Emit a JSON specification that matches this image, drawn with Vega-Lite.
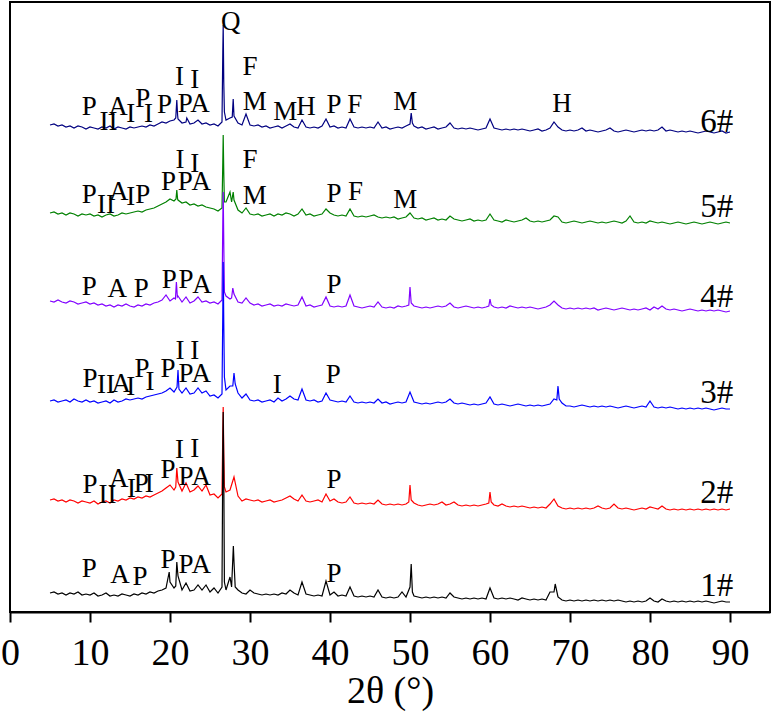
{
"$schema":"https://vega.github.io/schema/vega-lite/v6.json",
"width":760,"height":610,
"autosize":{"type":"none"},
"padding":{"left":10,"top":2,"right":4,"bottom":110},
"background":"white",
"config":{"view":{"stroke":"#000","strokeWidth":2}},
"layer":[
{"data":{"values":[
{"s":"6#","x":5,"y":487},{"s":"6#","x":5.5,"y":488},{"s":"6#","x":6,"y":486},{"s":"6#","x":6.5,"y":487},{"s":"6#","x":7,"y":485},{"s":"6#","x":7.5,"y":486},{"s":"6#","x":8,"y":484},{"s":"6#","x":8.5,"y":486},{"s":"6#","x":9,"y":485},{"s":"6#","x":9.5,"y":483},{"s":"6#","x":10,"y":485},{"s":"6#","x":10.5,"y":484},{"s":"6#","x":11,"y":483},{"s":"6#","x":11.5,"y":485},{"s":"6#","x":12,"y":484},{"s":"6#","x":12.5,"y":486},{"s":"6#","x":13,"y":483},{"s":"6#","x":13.5,"y":485},{"s":"6#","x":14,"y":484},{"s":"6#","x":14.5,"y":483},{"s":"6#","x":15,"y":485},{"s":"6#","x":15.5,"y":484},{"s":"6#","x":16,"y":485},{"s":"6#","x":16.5,"y":486},{"s":"6#","x":17,"y":485},{"s":"6#","x":17.5,"y":487},{"s":"6#","x":18,"y":486},{"s":"6#","x":18.5,"y":488},{"s":"6#","x":19,"y":490},{"s":"6#","x":19.5,"y":489},{"s":"6#","x":20,"y":491},{"s":"6#","x":20.5,"y":492},{"s":"6#","x":21,"y":493},{"s":"6#","x":21.5,"y":489},{"s":"6#","x":22,"y":490},{"s":"6#","x":22.5,"y":488},{"s":"6#","x":23,"y":489},{"s":"6#","x":23.5,"y":492},{"s":"6#","x":24,"y":488},{"s":"6#","x":24.5,"y":489},{"s":"6#","x":25,"y":487},{"s":"6#","x":25.5,"y":488},{"s":"6#","x":26,"y":486},{"s":"6#","x":26.5,"y":490},{"s":"6#","x":27,"y":492},{"s":"6#","x":27.5,"y":494},{"s":"6#","x":28,"y":496},{"s":"6#","x":28.5,"y":489},{"s":"6#","x":29,"y":487},{"s":"6#","x":29.5,"y":498},{"s":"6#","x":30,"y":487},{"s":"6#","x":30.5,"y":486},{"s":"6#","x":31,"y":487},{"s":"6#","x":31.5,"y":485},{"s":"6#","x":32,"y":486},{"s":"6#","x":32.5,"y":484},{"s":"6#","x":33,"y":485},{"s":"6#","x":33.5,"y":486},{"s":"6#","x":34,"y":484},{"s":"6#","x":34.5,"y":486},{"s":"6#","x":35,"y":488},{"s":"6#","x":35.5,"y":485},{"s":"6#","x":36,"y":484},{"s":"6#","x":36.5,"y":492},{"s":"6#","x":37,"y":485},{"s":"6#","x":37.5,"y":484},{"s":"6#","x":38,"y":485},{"s":"6#","x":38.5,"y":484},{"s":"6#","x":39,"y":486},{"s":"6#","x":39.5,"y":493},{"s":"6#","x":40,"y":485},{"s":"6#","x":40.5,"y":486},{"s":"6#","x":41,"y":484},{"s":"6#","x":41.5,"y":485},{"s":"6#","x":42,"y":484},{"s":"6#","x":42.5,"y":493},{"s":"6#","x":43,"y":485},{"s":"6#","x":43.5,"y":484},{"s":"6#","x":44,"y":485},{"s":"6#","x":44.5,"y":484},{"s":"6#","x":45,"y":485},{"s":"6#","x":45.5,"y":484},{"s":"6#","x":46,"y":490},{"s":"6#","x":46.5,"y":484},{"s":"6#","x":47,"y":485},{"s":"6#","x":47.5,"y":483},{"s":"6#","x":48,"y":484},{"s":"6#","x":48.5,"y":485},{"s":"6#","x":49,"y":484},{"s":"6#","x":49.5,"y":486},{"s":"6#","x":50,"y":488},{"s":"6#","x":50.5,"y":486},{"s":"6#","x":51,"y":484},{"s":"6#","x":51.5,"y":485},{"s":"6#","x":52,"y":483},{"s":"6#","x":52.5,"y":484},{"s":"6#","x":53,"y":485},{"s":"6#","x":53.5,"y":483},{"s":"6#","x":54,"y":484},{"s":"6#","x":54.5,"y":485},{"s":"6#","x":55,"y":489},{"s":"6#","x":55.5,"y":484},{"s":"6#","x":56,"y":483},{"s":"6#","x":56.5,"y":484},{"s":"6#","x":57,"y":483},{"s":"6#","x":57.5,"y":484},{"s":"6#","x":58,"y":483},{"s":"6#","x":58.5,"y":482},{"s":"6#","x":59,"y":483},{"s":"6#","x":59.5,"y":484},{"s":"6#","x":60,"y":493},{"s":"6#","x":60.5,"y":484},{"s":"6#","x":61,"y":483},{"s":"6#","x":61.5,"y":482},{"s":"6#","x":62,"y":483},{"s":"6#","x":62.5,"y":482},{"s":"6#","x":63,"y":483},{"s":"6#","x":63.5,"y":482},{"s":"6#","x":64,"y":483},{"s":"6#","x":64.5,"y":482},{"s":"6#","x":65,"y":481},{"s":"6#","x":65.5,"y":482},{"s":"6#","x":66,"y":483},{"s":"6#","x":66.5,"y":481},{"s":"6#","x":67,"y":482},{"s":"6#","x":67.5,"y":484},{"s":"6#","x":68,"y":490},{"s":"6#","x":68.5,"y":485},{"s":"6#","x":69,"y":482},{"s":"6#","x":69.5,"y":481},{"s":"6#","x":70,"y":482},{"s":"6#","x":70.5,"y":481},{"s":"6#","x":71,"y":482},{"s":"6#","x":71.5,"y":484},{"s":"6#","x":72,"y":481},{"s":"6#","x":72.5,"y":482},{"s":"6#","x":73,"y":481},{"s":"6#","x":73.5,"y":480},{"s":"6#","x":74,"y":481},{"s":"6#","x":74.5,"y":482},{"s":"6#","x":75,"y":484},{"s":"6#","x":75.5,"y":481},{"s":"6#","x":76,"y":480},{"s":"6#","x":76.5,"y":481},{"s":"6#","x":77,"y":482},{"s":"6#","x":77.5,"y":481},{"s":"6#","x":78,"y":480},{"s":"6#","x":78.5,"y":481},{"s":"6#","x":79,"y":482},{"s":"6#","x":79.5,"y":481},{"s":"6#","x":80,"y":482},{"s":"6#","x":80.5,"y":481},{"s":"6#","x":81,"y":482},{"s":"6#","x":81.5,"y":485},{"s":"6#","x":82,"y":481},{"s":"6#","x":82.5,"y":482},{"s":"6#","x":83,"y":481},{"s":"6#","x":83.5,"y":480},{"s":"6#","x":84,"y":481},{"s":"6#","x":84.5,"y":480},{"s":"6#","x":85,"y":481},{"s":"6#","x":85.5,"y":480},{"s":"6#","x":86,"y":479},{"s":"6#","x":86.5,"y":480},{"s":"6#","x":87,"y":481},{"s":"6#","x":87.5,"y":480},{"s":"6#","x":88,"y":479},{"s":"6#","x":88.5,"y":480},{"s":"6#","x":89,"y":481},{"s":"6#","x":89.5,"y":479},{"s":"6#","x":90,"y":480},
{"s":"6#","x":20.72,"y":494},{"s":"6#","x":20.85,"y":512},{"s":"6#","x":20.95,"y":497},{"s":"6#","x":22.1,"y":494},{"s":"6#","x":26.6,"y":560},{"s":"6#","x":26.65,"y":587},{"s":"6#","x":26.72,"y":530},{"s":"6#","x":26.8,"y":500},{"s":"6#","x":27.78,"y":495},{"s":"6#","x":27.9,"y":513},{"s":"6#","x":50.15,"y":499},{"s":"6#","x":50.3,"y":489},

{"s":"5#","x":5,"y":399},{"s":"5#","x":5.5,"y":400},{"s":"5#","x":6,"y":398},{"s":"5#","x":6.5,"y":399},{"s":"5#","x":7,"y":397},{"s":"5#","x":7.5,"y":399},{"s":"5#","x":8,"y":398},{"s":"5#","x":8.5,"y":396},{"s":"5#","x":9,"y":398},{"s":"5#","x":9.5,"y":397},{"s":"5#","x":10,"y":398},{"s":"5#","x":10.5,"y":396},{"s":"5#","x":11,"y":397},{"s":"5#","x":11.5,"y":395},{"s":"5#","x":12,"y":397},{"s":"5#","x":12.5,"y":398},{"s":"5#","x":13,"y":396},{"s":"5#","x":13.5,"y":397},{"s":"5#","x":14,"y":399},{"s":"5#","x":14.5,"y":398},{"s":"5#","x":15,"y":399},{"s":"5#","x":15.5,"y":400},{"s":"5#","x":16,"y":401},{"s":"5#","x":16.5,"y":400},{"s":"5#","x":17,"y":402},{"s":"5#","x":17.5,"y":403},{"s":"5#","x":18,"y":404},{"s":"5#","x":18.5,"y":406},{"s":"5#","x":19,"y":408},{"s":"5#","x":19.5,"y":410},{"s":"5#","x":20,"y":413},{"s":"5#","x":20.5,"y":411},{"s":"5#","x":21,"y":412},{"s":"5#","x":21.5,"y":409},{"s":"5#","x":22,"y":410},{"s":"5#","x":22.5,"y":407},{"s":"5#","x":23,"y":408},{"s":"5#","x":23.5,"y":406},{"s":"5#","x":24,"y":407},{"s":"5#","x":24.5,"y":405},{"s":"5#","x":25,"y":404},{"s":"5#","x":25.5,"y":403},{"s":"5#","x":26,"y":401},{"s":"5#","x":26.5,"y":404},{"s":"5#","x":27,"y":410},{"s":"5#","x":27.5,"y":420},{"s":"5#","x":28,"y":412},{"s":"5#","x":28.5,"y":402},{"s":"5#","x":29,"y":399},{"s":"5#","x":29.5,"y":404},{"s":"5#","x":30,"y":398},{"s":"5#","x":30.5,"y":397},{"s":"5#","x":31,"y":398},{"s":"5#","x":31.5,"y":396},{"s":"5#","x":32,"y":397},{"s":"5#","x":32.5,"y":398},{"s":"5#","x":33,"y":396},{"s":"5#","x":33.5,"y":398},{"s":"5#","x":34,"y":397},{"s":"5#","x":34.5,"y":399},{"s":"5#","x":35,"y":398},{"s":"5#","x":35.5,"y":396},{"s":"5#","x":36,"y":398},{"s":"5#","x":36.5,"y":403},{"s":"5#","x":37,"y":397},{"s":"5#","x":37.5,"y":398},{"s":"5#","x":38,"y":396},{"s":"5#","x":38.5,"y":397},{"s":"5#","x":39,"y":398},{"s":"5#","x":39.5,"y":403},{"s":"5#","x":40,"y":399},{"s":"5#","x":40.5,"y":397},{"s":"5#","x":41,"y":396},{"s":"5#","x":41.5,"y":397},{"s":"5#","x":42,"y":396},{"s":"5#","x":42.5,"y":403},{"s":"5#","x":43,"y":396},{"s":"5#","x":43.5,"y":395},{"s":"5#","x":44,"y":396},{"s":"5#","x":44.5,"y":395},{"s":"5#","x":45,"y":396},{"s":"5#","x":45.5,"y":397},{"s":"5#","x":46,"y":395},{"s":"5#","x":46.5,"y":394},{"s":"5#","x":47,"y":395},{"s":"5#","x":47.5,"y":394},{"s":"5#","x":48,"y":395},{"s":"5#","x":48.5,"y":393},{"s":"5#","x":49,"y":394},{"s":"5#","x":49.5,"y":395},{"s":"5#","x":50,"y":399},{"s":"5#","x":50.5,"y":394},{"s":"5#","x":51,"y":393},{"s":"5#","x":51.5,"y":394},{"s":"5#","x":52,"y":392},{"s":"5#","x":52.5,"y":393},{"s":"5#","x":53,"y":394},{"s":"5#","x":53.5,"y":392},{"s":"5#","x":54,"y":393},{"s":"5#","x":54.5,"y":392},{"s":"5#","x":55,"y":396},{"s":"5#","x":55.5,"y":393},{"s":"5#","x":56,"y":392},{"s":"5#","x":56.5,"y":391},{"s":"5#","x":57,"y":392},{"s":"5#","x":57.5,"y":393},{"s":"5#","x":58,"y":391},{"s":"5#","x":58.5,"y":392},{"s":"5#","x":59,"y":391},{"s":"5#","x":59.5,"y":392},{"s":"5#","x":60,"y":398},{"s":"5#","x":60.5,"y":392},{"s":"5#","x":61,"y":391},{"s":"5#","x":61.5,"y":390},{"s":"5#","x":62,"y":392},{"s":"5#","x":62.5,"y":391},{"s":"5#","x":63,"y":390},{"s":"5#","x":63.5,"y":391},{"s":"5#","x":64,"y":392},{"s":"5#","x":64.5,"y":394},{"s":"5#","x":65,"y":391},{"s":"5#","x":65.5,"y":390},{"s":"5#","x":66,"y":391},{"s":"5#","x":66.5,"y":390},{"s":"5#","x":67,"y":391},{"s":"5#","x":67.5,"y":392},{"s":"5#","x":68,"y":396},{"s":"5#","x":68.5,"y":395},{"s":"5#","x":69,"y":390},{"s":"5#","x":69.5,"y":389},{"s":"5#","x":70,"y":390},{"s":"5#","x":70.5,"y":391},{"s":"5#","x":71,"y":390},{"s":"5#","x":71.5,"y":389},{"s":"5#","x":72,"y":390},{"s":"5#","x":72.5,"y":391},{"s":"5#","x":73,"y":390},{"s":"5#","x":73.5,"y":389},{"s":"5#","x":74,"y":390},{"s":"5#","x":74.5,"y":389},{"s":"5#","x":75,"y":390},{"s":"5#","x":75.5,"y":391},{"s":"5#","x":76,"y":390},{"s":"5#","x":76.5,"y":389},{"s":"5#","x":77,"y":391},{"s":"5#","x":77.5,"y":396},{"s":"5#","x":78,"y":390},{"s":"5#","x":78.5,"y":389},{"s":"5#","x":79,"y":390},{"s":"5#","x":79.5,"y":389},{"s":"5#","x":80,"y":391},{"s":"5#","x":80.5,"y":390},{"s":"5#","x":81,"y":389},{"s":"5#","x":81.5,"y":390},{"s":"5#","x":82,"y":389},{"s":"5#","x":82.5,"y":388},{"s":"5#","x":83,"y":389},{"s":"5#","x":83.5,"y":390},{"s":"5#","x":84,"y":389},{"s":"5#","x":84.5,"y":388},{"s":"5#","x":85,"y":389},{"s":"5#","x":85.5,"y":390},{"s":"5#","x":86,"y":389},{"s":"5#","x":86.5,"y":388},{"s":"5#","x":87,"y":389},{"s":"5#","x":87.5,"y":390},{"s":"5#","x":88,"y":389},{"s":"5#","x":88.5,"y":388},{"s":"5#","x":89,"y":389},{"s":"5#","x":89.5,"y":390},{"s":"5#","x":90,"y":389},
{"s":"5#","x":20.75,"y":413},{"s":"5#","x":20.85,"y":422},{"s":"5#","x":20.95,"y":413},{"s":"5#","x":26.6,"y":450},{"s":"5#","x":26.65,"y":477},{"s":"5#","x":26.72,"y":440},{"s":"5#","x":26.8,"y":410},{"s":"5#","x":27.7,"y":410},{"s":"5#","x":27.9,"y":420},

{"s":"4#","x":5,"y":311},{"s":"4#","x":5.5,"y":310},{"s":"4#","x":6,"y":312},{"s":"4#","x":6.5,"y":310},{"s":"4#","x":7,"y":309},{"s":"4#","x":7.5,"y":311},{"s":"4#","x":8,"y":310},{"s":"4#","x":8.5,"y":308},{"s":"4#","x":9,"y":309},{"s":"4#","x":9.5,"y":310},{"s":"4#","x":10,"y":308},{"s":"4#","x":10.5,"y":309},{"s":"4#","x":11,"y":307},{"s":"4#","x":11.5,"y":308},{"s":"4#","x":12,"y":306},{"s":"4#","x":12.5,"y":307},{"s":"4#","x":13,"y":305},{"s":"4#","x":13.5,"y":307},{"s":"4#","x":14,"y":306},{"s":"4#","x":14.5,"y":308},{"s":"4#","x":15,"y":306},{"s":"4#","x":15.5,"y":305},{"s":"4#","x":16,"y":307},{"s":"4#","x":16.5,"y":306},{"s":"4#","x":17,"y":308},{"s":"4#","x":17.5,"y":307},{"s":"4#","x":18,"y":309},{"s":"4#","x":18.5,"y":310},{"s":"4#","x":19,"y":312},{"s":"4#","x":19.5,"y":317},{"s":"4#","x":20,"y":311},{"s":"4#","x":20.5,"y":314},{"s":"4#","x":21,"y":316},{"s":"4#","x":21.5,"y":310},{"s":"4#","x":22,"y":315},{"s":"4#","x":22.5,"y":309},{"s":"4#","x":23,"y":311},{"s":"4#","x":23.5,"y":315},{"s":"4#","x":24,"y":310},{"s":"4#","x":24.5,"y":311},{"s":"4#","x":25,"y":309},{"s":"4#","x":25.5,"y":310},{"s":"4#","x":26,"y":308},{"s":"4#","x":26.5,"y":312},{"s":"4#","x":27,"y":316},{"s":"4#","x":27.5,"y":313},{"s":"4#","x":28,"y":318},{"s":"4#","x":28.5,"y":310},{"s":"4#","x":29,"y":309},{"s":"4#","x":29.5,"y":314},{"s":"4#","x":30,"y":309},{"s":"4#","x":30.5,"y":307},{"s":"4#","x":31,"y":308},{"s":"4#","x":31.5,"y":306},{"s":"4#","x":32,"y":307},{"s":"4#","x":32.5,"y":308},{"s":"4#","x":33,"y":306},{"s":"4#","x":33.5,"y":307},{"s":"4#","x":34,"y":306},{"s":"4#","x":34.5,"y":308},{"s":"4#","x":35,"y":307},{"s":"4#","x":35.5,"y":306},{"s":"4#","x":36,"y":307},{"s":"4#","x":36.5,"y":315},{"s":"4#","x":37,"y":306},{"s":"4#","x":37.5,"y":307},{"s":"4#","x":38,"y":305},{"s":"4#","x":38.5,"y":306},{"s":"4#","x":39,"y":307},{"s":"4#","x":39.5,"y":315},{"s":"4#","x":40,"y":306},{"s":"4#","x":40.5,"y":305},{"s":"4#","x":41,"y":306},{"s":"4#","x":41.5,"y":305},{"s":"4#","x":42,"y":306},{"s":"4#","x":42.5,"y":317},{"s":"4#","x":43,"y":306},{"s":"4#","x":43.5,"y":305},{"s":"4#","x":44,"y":304},{"s":"4#","x":44.5,"y":305},{"s":"4#","x":45,"y":306},{"s":"4#","x":45.5,"y":305},{"s":"4#","x":46,"y":310},{"s":"4#","x":46.5,"y":305},{"s":"4#","x":47,"y":304},{"s":"4#","x":47.5,"y":305},{"s":"4#","x":48,"y":304},{"s":"4#","x":48.5,"y":306},{"s":"4#","x":49,"y":305},{"s":"4#","x":49.5,"y":306},{"s":"4#","x":50,"y":325},{"s":"4#","x":50.5,"y":306},{"s":"4#","x":51,"y":305},{"s":"4#","x":51.5,"y":304},{"s":"4#","x":52,"y":305},{"s":"4#","x":52.5,"y":304},{"s":"4#","x":53,"y":305},{"s":"4#","x":53.5,"y":306},{"s":"4#","x":54,"y":305},{"s":"4#","x":54.5,"y":306},{"s":"4#","x":55,"y":309},{"s":"4#","x":55.5,"y":305},{"s":"4#","x":56,"y":304},{"s":"4#","x":56.5,"y":305},{"s":"4#","x":57,"y":306},{"s":"4#","x":57.5,"y":305},{"s":"4#","x":58,"y":304},{"s":"4#","x":58.5,"y":305},{"s":"4#","x":59,"y":304},{"s":"4#","x":59.5,"y":305},{"s":"4#","x":60,"y":313},{"s":"4#","x":60.5,"y":305},{"s":"4#","x":61,"y":304},{"s":"4#","x":61.5,"y":305},{"s":"4#","x":62,"y":304},{"s":"4#","x":62.5,"y":306},{"s":"4#","x":63,"y":305},{"s":"4#","x":63.5,"y":304},{"s":"4#","x":64,"y":305},{"s":"4#","x":64.5,"y":304},{"s":"4#","x":65,"y":305},{"s":"4#","x":65.5,"y":304},{"s":"4#","x":66,"y":303},{"s":"4#","x":66.5,"y":304},{"s":"4#","x":67,"y":305},{"s":"4#","x":67.5,"y":307},{"s":"4#","x":68,"y":311},{"s":"4#","x":68.5,"y":307},{"s":"4#","x":69,"y":304},{"s":"4#","x":69.5,"y":303},{"s":"4#","x":70,"y":304},{"s":"4#","x":70.5,"y":303},{"s":"4#","x":71,"y":304},{"s":"4#","x":71.5,"y":303},{"s":"4#","x":72,"y":304},{"s":"4#","x":72.5,"y":303},{"s":"4#","x":73,"y":304},{"s":"4#","x":73.5,"y":302},{"s":"4#","x":74,"y":303},{"s":"4#","x":74.5,"y":304},{"s":"4#","x":75,"y":303},{"s":"4#","x":75.5,"y":302},{"s":"4#","x":76,"y":303},{"s":"4#","x":76.5,"y":304},{"s":"4#","x":77,"y":303},{"s":"4#","x":77.5,"y":302},{"s":"4#","x":78,"y":303},{"s":"4#","x":78.5,"y":302},{"s":"4#","x":79,"y":303},{"s":"4#","x":79.5,"y":304},{"s":"4#","x":80,"y":302},{"s":"4#","x":80.5,"y":305},{"s":"4#","x":81,"y":303},{"s":"4#","x":81.5,"y":306},{"s":"4#","x":82,"y":303},{"s":"4#","x":82.5,"y":302},{"s":"4#","x":83,"y":303},{"s":"4#","x":83.5,"y":302},{"s":"4#","x":84,"y":301},{"s":"4#","x":84.5,"y":302},{"s":"4#","x":85,"y":303},{"s":"4#","x":85.5,"y":302},{"s":"4#","x":86,"y":301},{"s":"4#","x":86.5,"y":302},{"s":"4#","x":87,"y":301},{"s":"4#","x":87.5,"y":302},{"s":"4#","x":88,"y":301},{"s":"4#","x":88.5,"y":302},{"s":"4#","x":89,"y":301},{"s":"4#","x":89.5,"y":300},{"s":"4#","x":90,"y":301},
{"s":"4#","x":20.68,"y":313},{"s":"4#","x":20.8,"y":330},{"s":"4#","x":20.92,"y":315},{"s":"4#","x":26.6,"y":390},{"s":"4#","x":26.65,"y":420},{"s":"4#","x":26.72,"y":370},{"s":"4#","x":26.8,"y":320},{"s":"4#","x":27.7,"y":314},{"s":"4#","x":27.85,"y":324},{"s":"4#","x":49.85,"y":307},{"s":"4#","x":50.15,"y":309},{"s":"4#","x":59.85,"y":306},{"s":"4#","x":60.15,"y":307},

{"s":"3#","x":5,"y":211},{"s":"3#","x":5.5,"y":212},{"s":"3#","x":6,"y":210},{"s":"3#","x":6.5,"y":211},{"s":"3#","x":7,"y":212},{"s":"3#","x":7.5,"y":210},{"s":"3#","x":8,"y":213},{"s":"3#","x":8.5,"y":211},{"s":"3#","x":9,"y":210},{"s":"3#","x":9.5,"y":212},{"s":"3#","x":10,"y":210},{"s":"3#","x":10.5,"y":211},{"s":"3#","x":11,"y":209},{"s":"3#","x":11.5,"y":210},{"s":"3#","x":12,"y":211},{"s":"3#","x":12.5,"y":209},{"s":"3#","x":13,"y":212},{"s":"3#","x":13.5,"y":210},{"s":"3#","x":14,"y":211},{"s":"3#","x":14.5,"y":213},{"s":"3#","x":15,"y":212},{"s":"3#","x":15.5,"y":213},{"s":"3#","x":16,"y":214},{"s":"3#","x":16.5,"y":213},{"s":"3#","x":17,"y":215},{"s":"3#","x":17.5,"y":216},{"s":"3#","x":18,"y":217},{"s":"3#","x":18.5,"y":218},{"s":"3#","x":19,"y":219},{"s":"3#","x":19.5,"y":221},{"s":"3#","x":20,"y":224},{"s":"3#","x":20.5,"y":220},{"s":"3#","x":21,"y":242},{"s":"3#","x":21.5,"y":219},{"s":"3#","x":22,"y":224},{"s":"3#","x":22.5,"y":218},{"s":"3#","x":23,"y":219},{"s":"3#","x":23.5,"y":224},{"s":"3#","x":24,"y":219},{"s":"3#","x":24.5,"y":221},{"s":"3#","x":25,"y":216},{"s":"3#","x":25.5,"y":217},{"s":"3#","x":26,"y":214},{"s":"3#","x":26.5,"y":218},{"s":"3#","x":27,"y":222},{"s":"3#","x":27.5,"y":226},{"s":"3#","x":28,"y":239},{"s":"3#","x":28.5,"y":219},{"s":"3#","x":29,"y":214},{"s":"3#","x":29.5,"y":218},{"s":"3#","x":30,"y":212},{"s":"3#","x":30.5,"y":211},{"s":"3#","x":31,"y":212},{"s":"3#","x":31.5,"y":210},{"s":"3#","x":32,"y":211},{"s":"3#","x":32.5,"y":212},{"s":"3#","x":33,"y":210},{"s":"3#","x":33.5,"y":214},{"s":"3#","x":34,"y":211},{"s":"3#","x":34.5,"y":213},{"s":"3#","x":35,"y":216},{"s":"3#","x":35.5,"y":213},{"s":"3#","x":36,"y":212},{"s":"3#","x":36.5,"y":223},{"s":"3#","x":37,"y":212},{"s":"3#","x":37.5,"y":211},{"s":"3#","x":38,"y":212},{"s":"3#","x":38.5,"y":210},{"s":"3#","x":39,"y":211},{"s":"3#","x":39.5,"y":219},{"s":"3#","x":40,"y":212},{"s":"3#","x":40.5,"y":211},{"s":"3#","x":41,"y":210},{"s":"3#","x":41.5,"y":211},{"s":"3#","x":42,"y":210},{"s":"3#","x":42.5,"y":216},{"s":"3#","x":43,"y":210},{"s":"3#","x":43.5,"y":209},{"s":"3#","x":44,"y":210},{"s":"3#","x":44.5,"y":209},{"s":"3#","x":45,"y":210},{"s":"3#","x":45.5,"y":209},{"s":"3#","x":46,"y":213},{"s":"3#","x":46.5,"y":209},{"s":"3#","x":47,"y":210},{"s":"3#","x":47.5,"y":208},{"s":"3#","x":48,"y":209},{"s":"3#","x":48.5,"y":210},{"s":"3#","x":49,"y":209},{"s":"3#","x":49.5,"y":210},{"s":"3#","x":50,"y":220},{"s":"3#","x":50.5,"y":210},{"s":"3#","x":51,"y":209},{"s":"3#","x":51.5,"y":208},{"s":"3#","x":52,"y":209},{"s":"3#","x":52.5,"y":208},{"s":"3#","x":53,"y":209},{"s":"3#","x":53.5,"y":210},{"s":"3#","x":54,"y":209},{"s":"3#","x":54.5,"y":210},{"s":"3#","x":55,"y":213},{"s":"3#","x":55.5,"y":209},{"s":"3#","x":56,"y":208},{"s":"3#","x":56.5,"y":209},{"s":"3#","x":57,"y":208},{"s":"3#","x":57.5,"y":207},{"s":"3#","x":58,"y":208},{"s":"3#","x":58.5,"y":207},{"s":"3#","x":59,"y":208},{"s":"3#","x":59.5,"y":209},{"s":"3#","x":60,"y":215},{"s":"3#","x":60.5,"y":208},{"s":"3#","x":61,"y":207},{"s":"3#","x":61.5,"y":208},{"s":"3#","x":62,"y":207},{"s":"3#","x":62.5,"y":206},{"s":"3#","x":63,"y":207},{"s":"3#","x":63.5,"y":208},{"s":"3#","x":64,"y":207},{"s":"3#","x":64.5,"y":206},{"s":"3#","x":65,"y":207},{"s":"3#","x":65.5,"y":206},{"s":"3#","x":66,"y":207},{"s":"3#","x":66.5,"y":206},{"s":"3#","x":67,"y":207},{"s":"3#","x":67.5,"y":208},{"s":"3#","x":68,"y":213},{"s":"3#","x":68.5,"y":226},{"s":"3#","x":69,"y":209},{"s":"3#","x":69.5,"y":206},{"s":"3#","x":70,"y":206},{"s":"3#","x":70.5,"y":205},{"s":"3#","x":71,"y":206},{"s":"3#","x":71.5,"y":207},{"s":"3#","x":72,"y":206},{"s":"3#","x":72.5,"y":205},{"s":"3#","x":73,"y":206},{"s":"3#","x":73.5,"y":205},{"s":"3#","x":74,"y":206},{"s":"3#","x":74.5,"y":205},{"s":"3#","x":75,"y":206},{"s":"3#","x":75.5,"y":205},{"s":"3#","x":76,"y":204},{"s":"3#","x":76.5,"y":205},{"s":"3#","x":77,"y":206},{"s":"3#","x":77.5,"y":205},{"s":"3#","x":78,"y":204},{"s":"3#","x":78.5,"y":205},{"s":"3#","x":79,"y":206},{"s":"3#","x":79.5,"y":205},{"s":"3#","x":80,"y":211},{"s":"3#","x":80.5,"y":205},{"s":"3#","x":81,"y":204},{"s":"3#","x":81.5,"y":205},{"s":"3#","x":82,"y":204},{"s":"3#","x":82.5,"y":205},{"s":"3#","x":83,"y":204},{"s":"3#","x":83.5,"y":203},{"s":"3#","x":84,"y":204},{"s":"3#","x":84.5,"y":203},{"s":"3#","x":85,"y":204},{"s":"3#","x":85.5,"y":203},{"s":"3#","x":86,"y":204},{"s":"3#","x":86.5,"y":203},{"s":"3#","x":87,"y":204},{"s":"3#","x":87.5,"y":203},{"s":"3#","x":88,"y":202},{"s":"3#","x":88.5,"y":203},{"s":"3#","x":89,"y":204},{"s":"3#","x":89.5,"y":203},{"s":"3#","x":90,"y":203},
{"s":"3#","x":20.88,"y":225},{"s":"3#","x":21.12,"y":223},{"s":"3#","x":26.6,"y":300},{"s":"3#","x":26.65,"y":350},{"s":"3#","x":26.72,"y":290},{"s":"3#","x":26.8,"y":235},{"s":"3#","x":27.85,"y":226},{"s":"3#","x":28.15,"y":228},{"s":"3#","x":68.35,"y":212},{"s":"3#","x":68.65,"y":213},

{"s":"2#","x":5,"y":112},{"s":"2#","x":5.5,"y":113},{"s":"2#","x":6,"y":111},{"s":"2#","x":6.5,"y":112},{"s":"2#","x":7,"y":110},{"s":"2#","x":7.5,"y":112},{"s":"2#","x":8,"y":111},{"s":"2#","x":8.5,"y":109},{"s":"2#","x":9,"y":111},{"s":"2#","x":9.5,"y":110},{"s":"2#","x":10,"y":109},{"s":"2#","x":10.5,"y":111},{"s":"2#","x":11,"y":108},{"s":"2#","x":11.5,"y":110},{"s":"2#","x":12,"y":111},{"s":"2#","x":12.5,"y":109},{"s":"2#","x":13,"y":112},{"s":"2#","x":13.5,"y":111},{"s":"2#","x":14,"y":113},{"s":"2#","x":14.5,"y":112},{"s":"2#","x":15,"y":114},{"s":"2#","x":15.5,"y":113},{"s":"2#","x":16,"y":115},{"s":"2#","x":16.5,"y":114},{"s":"2#","x":17,"y":116},{"s":"2#","x":17.5,"y":115},{"s":"2#","x":18,"y":117},{"s":"2#","x":18.5,"y":119},{"s":"2#","x":19,"y":121},{"s":"2#","x":19.5,"y":124},{"s":"2#","x":20,"y":127},{"s":"2#","x":20.5,"y":122},{"s":"2#","x":21,"y":130},{"s":"2#","x":21.5,"y":121},{"s":"2#","x":22,"y":129},{"s":"2#","x":22.5,"y":120},{"s":"2#","x":23,"y":122},{"s":"2#","x":23.5,"y":126},{"s":"2#","x":24,"y":121},{"s":"2#","x":24.5,"y":127},{"s":"2#","x":25,"y":117},{"s":"2#","x":25.5,"y":118},{"s":"2#","x":26,"y":114},{"s":"2#","x":26.5,"y":118},{"s":"2#","x":27,"y":120},{"s":"2#","x":27.5,"y":122},{"s":"2#","x":28,"y":135},{"s":"2#","x":28.5,"y":116},{"s":"2#","x":29,"y":111},{"s":"2#","x":29.5,"y":113},{"s":"2#","x":30,"y":112},{"s":"2#","x":30.5,"y":111},{"s":"2#","x":31,"y":112},{"s":"2#","x":31.5,"y":110},{"s":"2#","x":32,"y":111},{"s":"2#","x":32.5,"y":112},{"s":"2#","x":33,"y":110},{"s":"2#","x":33.5,"y":111},{"s":"2#","x":34,"y":112},{"s":"2#","x":34.5,"y":114},{"s":"2#","x":35,"y":116},{"s":"2#","x":35.5,"y":113},{"s":"2#","x":36,"y":111},{"s":"2#","x":36.5,"y":117},{"s":"2#","x":37,"y":111},{"s":"2#","x":37.5,"y":110},{"s":"2#","x":38,"y":111},{"s":"2#","x":38.5,"y":112},{"s":"2#","x":39,"y":110},{"s":"2#","x":39.5,"y":118},{"s":"2#","x":40,"y":111},{"s":"2#","x":40.5,"y":113},{"s":"2#","x":41,"y":110},{"s":"2#","x":41.5,"y":109},{"s":"2#","x":42,"y":110},{"s":"2#","x":42.5,"y":115},{"s":"2#","x":43,"y":109},{"s":"2#","x":43.5,"y":108},{"s":"2#","x":44,"y":109},{"s":"2#","x":44.5,"y":108},{"s":"2#","x":45,"y":109},{"s":"2#","x":45.5,"y":108},{"s":"2#","x":46,"y":112},{"s":"2#","x":46.5,"y":108},{"s":"2#","x":47,"y":107},{"s":"2#","x":47.5,"y":108},{"s":"2#","x":48,"y":107},{"s":"2#","x":48.5,"y":108},{"s":"2#","x":49,"y":107},{"s":"2#","x":49.5,"y":108},{"s":"2#","x":50,"y":127},{"s":"2#","x":50.5,"y":109},{"s":"2#","x":51,"y":107},{"s":"2#","x":51.5,"y":106},{"s":"2#","x":52,"y":107},{"s":"2#","x":52.5,"y":108},{"s":"2#","x":53,"y":107},{"s":"2#","x":53.5,"y":108},{"s":"2#","x":54,"y":110},{"s":"2#","x":54.5,"y":107},{"s":"2#","x":55,"y":108},{"s":"2#","x":55.5,"y":110},{"s":"2#","x":56,"y":107},{"s":"2#","x":56.5,"y":106},{"s":"2#","x":57,"y":107},{"s":"2#","x":57.5,"y":106},{"s":"2#","x":58,"y":107},{"s":"2#","x":58.5,"y":106},{"s":"2#","x":59,"y":107},{"s":"2#","x":59.5,"y":108},{"s":"2#","x":60,"y":120},{"s":"2#","x":60.5,"y":107},{"s":"2#","x":61,"y":106},{"s":"2#","x":61.5,"y":108},{"s":"2#","x":62,"y":106},{"s":"2#","x":62.5,"y":105},{"s":"2#","x":63,"y":106},{"s":"2#","x":63.5,"y":105},{"s":"2#","x":64,"y":106},{"s":"2#","x":64.5,"y":105},{"s":"2#","x":65,"y":104},{"s":"2#","x":65.5,"y":105},{"s":"2#","x":66,"y":104},{"s":"2#","x":66.5,"y":105},{"s":"2#","x":67,"y":104},{"s":"2#","x":67.5,"y":108},{"s":"2#","x":68,"y":113},{"s":"2#","x":68.5,"y":106},{"s":"2#","x":69,"y":104},{"s":"2#","x":69.5,"y":103},{"s":"2#","x":70,"y":104},{"s":"2#","x":70.5,"y":103},{"s":"2#","x":71,"y":104},{"s":"2#","x":71.5,"y":103},{"s":"2#","x":72,"y":104},{"s":"2#","x":72.5,"y":103},{"s":"2#","x":73,"y":104},{"s":"2#","x":73.5,"y":106},{"s":"2#","x":74,"y":104},{"s":"2#","x":74.5,"y":103},{"s":"2#","x":75,"y":104},{"s":"2#","x":75.5,"y":108},{"s":"2#","x":76,"y":104},{"s":"2#","x":76.5,"y":103},{"s":"2#","x":77,"y":104},{"s":"2#","x":77.5,"y":103},{"s":"2#","x":78,"y":102},{"s":"2#","x":78.5,"y":103},{"s":"2#","x":79,"y":104},{"s":"2#","x":79.5,"y":103},{"s":"2#","x":80,"y":105},{"s":"2#","x":80.5,"y":104},{"s":"2#","x":81,"y":103},{"s":"2#","x":81.5,"y":106},{"s":"2#","x":82,"y":103},{"s":"2#","x":82.5,"y":102},{"s":"2#","x":83,"y":103},{"s":"2#","x":83.5,"y":102},{"s":"2#","x":84,"y":103},{"s":"2#","x":84.5,"y":102},{"s":"2#","x":85,"y":103},{"s":"2#","x":85.5,"y":102},{"s":"2#","x":86,"y":103},{"s":"2#","x":86.5,"y":102},{"s":"2#","x":87,"y":103},{"s":"2#","x":87.5,"y":102},{"s":"2#","x":88,"y":103},{"s":"2#","x":88.5,"y":102},{"s":"2#","x":89,"y":103},{"s":"2#","x":89.5,"y":102},{"s":"2#","x":90,"y":103},
{"s":"2#","x":20.72,"y":125},{"s":"2#","x":20.85,"y":144},{"s":"2#","x":26.6,"y":180},{"s":"2#","x":26.65,"y":205},{"s":"2#","x":26.72,"y":160},{"s":"2#","x":26.8,"y":125},{"s":"2#","x":49.85,"y":110},{"s":"2#","x":50.15,"y":112},{"s":"2#","x":59.85,"y":109},{"s":"2#","x":60.15,"y":110},

{"s":"1#","x":5,"y":19},{"s":"1#","x":5.5,"y":20},{"s":"1#","x":6,"y":18},{"s":"1#","x":6.5,"y":19},{"s":"1#","x":7,"y":17},{"s":"1#","x":7.5,"y":19},{"s":"1#","x":8,"y":18},{"s":"1#","x":8.5,"y":20},{"s":"1#","x":9,"y":17},{"s":"1#","x":9.5,"y":18},{"s":"1#","x":10,"y":17},{"s":"1#","x":10.5,"y":19},{"s":"1#","x":11,"y":16},{"s":"1#","x":11.5,"y":17},{"s":"1#","x":12,"y":19},{"s":"1#","x":12.5,"y":16},{"s":"1#","x":13,"y":17},{"s":"1#","x":13.5,"y":16},{"s":"1#","x":14,"y":18},{"s":"1#","x":14.5,"y":17},{"s":"1#","x":15,"y":16},{"s":"1#","x":15.5,"y":18},{"s":"1#","x":16,"y":17},{"s":"1#","x":16.5,"y":19},{"s":"1#","x":17,"y":18},{"s":"1#","x":17.5,"y":20},{"s":"1#","x":18,"y":19},{"s":"1#","x":18.5,"y":21},{"s":"1#","x":19,"y":22},{"s":"1#","x":19.5,"y":24},{"s":"1#","x":20,"y":30},{"s":"1#","x":20.5,"y":24},{"s":"1#","x":21,"y":36},{"s":"1#","x":21.5,"y":22},{"s":"1#","x":22,"y":29},{"s":"1#","x":22.5,"y":21},{"s":"1#","x":23,"y":22},{"s":"1#","x":23.5,"y":27},{"s":"1#","x":24,"y":22},{"s":"1#","x":24.5,"y":27},{"s":"1#","x":25,"y":20},{"s":"1#","x":25.5,"y":24},{"s":"1#","x":26,"y":19},{"s":"1#","x":26.5,"y":25},{"s":"1#","x":27,"y":22},{"s":"1#","x":27.5,"y":35},{"s":"1#","x":28,"y":50},{"s":"1#","x":28.5,"y":22},{"s":"1#","x":29,"y":19},{"s":"1#","x":29.5,"y":18},{"s":"1#","x":30,"y":22},{"s":"1#","x":30.5,"y":19},{"s":"1#","x":31,"y":18},{"s":"1#","x":31.5,"y":17},{"s":"1#","x":32,"y":18},{"s":"1#","x":32.5,"y":17},{"s":"1#","x":33,"y":18},{"s":"1#","x":33.5,"y":17},{"s":"1#","x":34,"y":19},{"s":"1#","x":34.5,"y":18},{"s":"1#","x":35,"y":22},{"s":"1#","x":35.5,"y":19},{"s":"1#","x":36,"y":17},{"s":"1#","x":36.5,"y":30},{"s":"1#","x":37,"y":18},{"s":"1#","x":37.5,"y":17},{"s":"1#","x":38,"y":16},{"s":"1#","x":38.5,"y":17},{"s":"1#","x":39,"y":16},{"s":"1#","x":39.5,"y":31},{"s":"1#","x":40,"y":17},{"s":"1#","x":40.5,"y":20},{"s":"1#","x":41,"y":16},{"s":"1#","x":41.5,"y":17},{"s":"1#","x":42,"y":16},{"s":"1#","x":42.5,"y":25},{"s":"1#","x":43,"y":16},{"s":"1#","x":43.5,"y":15},{"s":"1#","x":44,"y":16},{"s":"1#","x":44.5,"y":15},{"s":"1#","x":45,"y":16},{"s":"1#","x":45.5,"y":15},{"s":"1#","x":46,"y":22},{"s":"1#","x":46.5,"y":15},{"s":"1#","x":47,"y":14},{"s":"1#","x":47.5,"y":15},{"s":"1#","x":48,"y":14},{"s":"1#","x":48.5,"y":15},{"s":"1#","x":49,"y":20},{"s":"1#","x":49.5,"y":15},{"s":"1#","x":50,"y":25},{"s":"1#","x":50.5,"y":16},{"s":"1#","x":51,"y":15},{"s":"1#","x":51.5,"y":14},{"s":"1#","x":52,"y":15},{"s":"1#","x":52.5,"y":14},{"s":"1#","x":53,"y":15},{"s":"1#","x":53.5,"y":14},{"s":"1#","x":54,"y":15},{"s":"1#","x":54.5,"y":14},{"s":"1#","x":55,"y":19},{"s":"1#","x":55.5,"y":15},{"s":"1#","x":56,"y":14},{"s":"1#","x":56.5,"y":13},{"s":"1#","x":57,"y":14},{"s":"1#","x":57.5,"y":13},{"s":"1#","x":58,"y":14},{"s":"1#","x":58.5,"y":13},{"s":"1#","x":59,"y":14},{"s":"1#","x":59.5,"y":13},{"s":"1#","x":60,"y":24},{"s":"1#","x":60.5,"y":14},{"s":"1#","x":61,"y":13},{"s":"1#","x":61.5,"y":14},{"s":"1#","x":62,"y":13},{"s":"1#","x":62.5,"y":14},{"s":"1#","x":63,"y":13},{"s":"1#","x":63.5,"y":12},{"s":"1#","x":64,"y":14},{"s":"1#","x":64.5,"y":13},{"s":"1#","x":65,"y":12},{"s":"1#","x":65.5,"y":13},{"s":"1#","x":66,"y":12},{"s":"1#","x":66.5,"y":13},{"s":"1#","x":67,"y":12},{"s":"1#","x":67.5,"y":20},{"s":"1#","x":68,"y":20},{"s":"1#","x":68.5,"y":15},{"s":"1#","x":69,"y":12},{"s":"1#","x":69.5,"y":11},{"s":"1#","x":70,"y":12},{"s":"1#","x":70.5,"y":11},{"s":"1#","x":71,"y":12},{"s":"1#","x":71.5,"y":11},{"s":"1#","x":72,"y":12},{"s":"1#","x":72.5,"y":11},{"s":"1#","x":73,"y":12},{"s":"1#","x":73.5,"y":11},{"s":"1#","x":74,"y":12},{"s":"1#","x":74.5,"y":11},{"s":"1#","x":75,"y":12},{"s":"1#","x":75.5,"y":11},{"s":"1#","x":76,"y":12},{"s":"1#","x":76.5,"y":11},{"s":"1#","x":77,"y":10},{"s":"1#","x":77.5,"y":11},{"s":"1#","x":78,"y":10},{"s":"1#","x":78.5,"y":11},{"s":"1#","x":79,"y":10},{"s":"1#","x":79.5,"y":11},{"s":"1#","x":80,"y":14},{"s":"1#","x":80.5,"y":11},{"s":"1#","x":81,"y":10},{"s":"1#","x":81.5,"y":13},{"s":"1#","x":82,"y":11},{"s":"1#","x":82.5,"y":10},{"s":"1#","x":83,"y":11},{"s":"1#","x":83.5,"y":10},{"s":"1#","x":84,"y":11},{"s":"1#","x":84.5,"y":10},{"s":"1#","x":85,"y":11},{"s":"1#","x":85.5,"y":10},{"s":"1#","x":86,"y":11},{"s":"1#","x":86.5,"y":10},{"s":"1#","x":87,"y":11},{"s":"1#","x":87.5,"y":10},{"s":"1#","x":88,"y":9},{"s":"1#","x":88.5,"y":10},{"s":"1#","x":89,"y":11},{"s":"1#","x":89.5,"y":10},{"s":"1#","x":90,"y":10},
{"s":"1#","x":19.9,"y":40},{"s":"1#","x":20.72,"y":26},{"s":"1#","x":20.85,"y":50},{"s":"1#","x":26.6,"y":160},{"s":"1#","x":26.65,"y":200},{"s":"1#","x":26.72,"y":140},{"s":"1#","x":26.8,"y":30},{"s":"1#","x":27.7,"y":25},{"s":"1#","x":27.92,"y":66},{"s":"1#","x":28.15,"y":25},{"s":"1#","x":50.15,"y":48},{"s":"1#","x":50.3,"y":20},{"s":"1#","x":68.15,"y":28}
]},
"mark":{"type":"line","strokeWidth":1.2},
"encoding":{
"x":{"field":"x","type":"quantitative","scale":{"domain":[0,95],"nice":false,"zero":false},
"axis":{"values":[0,5,10,15,20,25,30,35,40,45,50,55,60,65,70,75,80,85,90,95],"labelExpr":"datum.value % 10 === 0 ? datum.label : ''","tickSize":{"condition":{"test":"datum.value % 10 === 0","value":10},"value":6},"tickWidth":2,"tickColor":"#000","domainColor":"#000","domainWidth":2,"labelFont":"Liberation Serif","labelFontSize":38,"labelColor":"#000","labelPadding":12,"labelFlush":false,"labelOverlap":false,"grid":false,"title":"2θ (°)","titleFont":"Liberation Serif","titleFontSize":38,"titleFontWeight":"normal","titleColor":"#000","titlePadding":0}},
"y":{"field":"y","type":"quantitative","scale":{"domain":[0,610],"nice":false,"zero":false},"axis":null},
"color":{"field":"s","type":"nominal","scale":{"domain":["1#","2#","3#","4#","5#","6#"],"range":["#000000","#ff0000","#0000ff","#8000ff","#008000","#000080"]},"legend":null}
}},
{"data":{"values":[
{"t":"P","x":9.9,"y":497},{"t":"II","x":12.3,"y":482},{"t":"A","x":13.5,"y":497},{"t":"I","x":15.1,"y":490},{"t":"P","x":16.6,"y":505},{"t":"I","x":17.3,"y":490},{"t":"P","x":19.3,"y":499},{"t":"I","x":21.2,"y":527},{"t":"I","x":23.1,"y":524},{"t":"P","x":21.9,"y":500},{"t":"A","x":23.75,"y":500},{"t":"Q","x":27.6,"y":582},{"t":"F","x":30,"y":537},{"t":"M","x":30.6,"y":502},{"t":"M","x":34.4,"y":492},{"t":"H","x":37,"y":497},{"t":"P","x":40.5,"y":499},{"t":"F","x":43.1,"y":499},{"t":"M","x":49.4,"y":502},{"t":"H","x":69,"y":500},
{"t":"P","x":9.9,"y":409},{"t":"II","x":12,"y":399},{"t":"A","x":13.6,"y":412},{"t":"I","x":15.1,"y":407},{"t":"P","x":16.6,"y":409},{"t":"P","x":19.8,"y":422},{"t":"I","x":21.25,"y":444},{"t":"I","x":23.1,"y":440},{"t":"P","x":21.9,"y":422},{"t":"A","x":23.9,"y":422},{"t":"F","x":30,"y":444},{"t":"M","x":30.6,"y":408},{"t":"P","x":40.5,"y":410},{"t":"F","x":43.2,"y":412},{"t":"M","x":49.4,"y":404},
{"t":"P","x":9.9,"y":317},{"t":"A","x":13.4,"y":315},{"t":"P","x":16.4,"y":315},{"t":"P","x":19.9,"y":324},{"t":"P","x":22,"y":324},{"t":"A","x":24,"y":319},{"t":"P","x":40.5,"y":319},
{"t":"P","x":10,"y":225},{"t":"II","x":12,"y":219},{"t":"A","x":13.9,"y":220},{"t":"I","x":15.1,"y":217},{"t":"P","x":16.5,"y":235},{"t":"I","x":17.5,"y":222},{"t":"P","x":19.75,"y":235},{"t":"I","x":21.25,"y":253},{"t":"I","x":23.1,"y":253},{"t":"P","x":22,"y":230},{"t":"A","x":23.9,"y":230},{"t":"I","x":33.4,"y":219},{"t":"P","x":40.4,"y":229},
{"t":"P","x":10,"y":119},{"t":"II","x":12.2,"y":109},{"t":"A","x":13.6,"y":125},{"t":"I","x":15.2,"y":115},{"t":"P","x":16.4,"y":120},{"t":"I","x":17.4,"y":120},{"t":"P","x":19.75,"y":134},{"t":"I","x":21.2,"y":154},{"t":"I","x":23.1,"y":155},{"t":"P","x":22,"y":127},{"t":"A","x":23.9,"y":127},{"t":"P","x":40.5,"y":124},
{"t":"P","x":9.9,"y":35},{"t":"A","x":13.75,"y":29},{"t":"P","x":16.25,"y":27},{"t":"P","x":19.75,"y":44},{"t":"P","x":22,"y":39},{"t":"A","x":23.9,"y":39},{"t":"P","x":40.5,"y":30}
]},
"mark":{"type":"text","font":"Liberation Serif","fontSize":27,"baseline":"alphabetic","align":"center","color":"#000"},
"encoding":{"x":{"field":"x","type":"quantitative"},"y":{"field":"y","type":"quantitative"},"text":{"field":"t"}}},
{"data":{"values":[
{"t":"6#","x":90.4,"y":480},{"t":"5#","x":90.4,"y":395},{"t":"4#","x":90.4,"y":305},{"t":"3#","x":90.4,"y":209},{"t":"2#","x":90.4,"y":109},{"t":"1#","x":90.4,"y":16}
]},
"mark":{"type":"text","font":"Liberation Serif","fontSize":33,"baseline":"alphabetic","align":"right","color":"#000"},
"encoding":{"x":{"field":"x","type":"quantitative"},"y":{"field":"y","type":"quantitative"},"text":{"field":"t"}}}
]
}
